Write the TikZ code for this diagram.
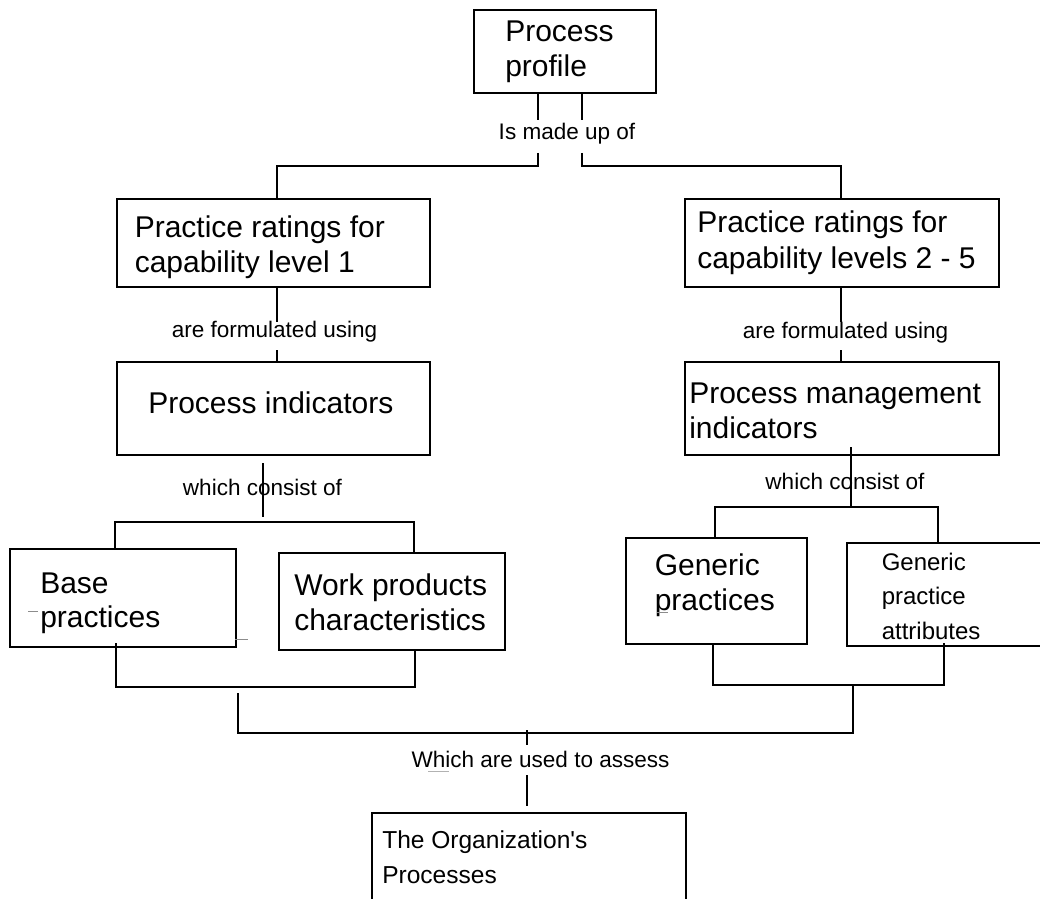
\documentclass[tikz,border=0pt]{standalone}
\usepackage{fontspec}
\setmainfont{Liberation Sans}[Ligatures=TeXOff]
\usetikzlibrary{calc}
\newcommand\mkbox[5]{\node[box,minimum width={(#4-#2)*0.75pt},minimum height={(#5-#3)*0.75pt}] (#1) at (#2,#3) {};}
\begin{document}
\begin{tikzpicture}[x=0.75pt,y=-0.75pt,
  box/.style={draw,line width=1.5pt,inner sep=0pt,outer sep=0pt,anchor=north west},
  txt/.style={anchor=base west,inner sep=0pt,font=\fontsize{22.5}{26}\selectfont},
  smalltxt/.style={anchor=base west,inner sep=0pt,font=\fontsize{18}{22}\selectfont},
  orgtxt/.style={anchor=base west,inner sep=0pt,font=\fontsize{18.4}{22}\selectfont},
  lab/.style={anchor=base,inner sep=0pt,font=\fontsize{16.9}{20}\selectfont},
  conn/.style={line width=1.5pt},
  speck/.style={black!45,line width=0.6pt}]
\useasboundingbox (0,0) rectangle (1040,899);

% boxes
\mkbox{pp}{474}{10}{656}{93}
\mkbox{lone}{117}{199}{430}{287}
\mkbox{rone}{685}{199}{999}{287}
\mkbox{ltwo}{117}{362}{430}{455}
\mkbox{rtwo}{685}{362}{999}{455}
\mkbox{bp}{10}{549}{236}{647}
\mkbox{wp}{279}{553}{505}{650}
\mkbox{gp}{626}{538}{807}{644}
\mkbox{ga}{847}{543}{1050}{646}
\mkbox{org}{372}{813}{686}{915}

% box texts
\node[txt] (pp1) at (505,42) {Process};
\node[txt] (pp2) at (505,77) {profile};
\node[txt] (lone1) at (134.5,237) {Practice ratings for};
\node[txt] (lone2) at (134.5,272) {capability level 1};
\node[txt] (rone1) at (697,233) {Practice ratings for};
\node[txt] (rone2) at (697,268) {capability levels 2 - 5};
\node[txt] (ltwo1) at (148,413) {Process indicators};
\node[txt] (rtwo1) at (689,403) {Process management};
\node[txt] (rtwo2) at (689,438) {indicators};
\node[txt] (bp1) at (40,593) {Base};
\node[txt] (bp2) at (40,627) {practices};
\node[txt] (wp1) at (294,595) {Work products};
\node[txt] (wp2) at (294,630) {characteristics};
\node[txt] (gp1) at (654.5,575) {Generic};
\node[txt] (gp2) at (654.5,610) {practices};
\node[smalltxt] (ga1) at (881.5,570) {Generic};
\node[smalltxt] (ga2) at (881.5,604.5) {practice};
\node[smalltxt] (ga3) at (881.5,639) {attributes};
\node[orgtxt] (org1) at (382,848) {The Organization's};
\node[orgtxt] (org2) at (382,883) {Processes};

% connector labels
\node[lab] (l1) at (567,140) {Is made up of};
\node[lab] (l2) at (274.5,337) {are formulated using};
\node[lab] (l3) at (845.5,338) {are formulated using};
\node[lab] (l4) at (262.5,495) {which consist of};
\node[lab] (l5) at (845,489) {which consist of};
\node[lab] (l6) at (540.5,767) {Which are used to assess};

% coordinates
\coordinate (a1) at (538,120);
\coordinate (a2) at (538,153);
\coordinate (a3) at (277,166);
\coordinate (b1) at (582,120);
\coordinate (b2) at (582,153);
\coordinate (b3) at (841,166);
\coordinate (c1) at (277,322);
\coordinate (c2) at (277,350);
\coordinate (d1) at (841,322);
\coordinate (d2) at (841,350);
\coordinate (e1) at (263,463);
\coordinate (e2) at (263,517);
\coordinate (e3) at (115,522);
\coordinate (e4) at (414,522);
\coordinate (f1) at (851,447);
\coordinate (f2) at (851,507);
\coordinate (f3) at (715,507);
\coordinate (f4) at (938,507);
\coordinate (g1) at (415,687);
\coordinate (g2) at (116,643);
\coordinate (g3) at (238,687);
\coordinate (g4) at (238,693);
\coordinate (g5) at (238,733);
\coordinate (h1) at (713,685);
\coordinate (h2) at (944,643);
\coordinate (h3) at (853,685);
\coordinate (h4) at (853,733);
\coordinate (k1) at (527,730);
\coordinate (k2) at (527,745);
\coordinate (k3) at (527,775);
\coordinate (k4) at (527,806);

% connectors
\draw[conn] (pp.south -| a1) -- (a1);
\draw[conn] (a2) |- (a3) -- (a3 |- lone.north);
\draw[conn] (pp.south -| b1) -- (b1);
\draw[conn] (b2) |- (b3) -- (b3 |- rone.north);
\draw[conn] (lone.south -| c1) -- (c1);
\draw[conn] (c2) -- (c2 |- ltwo.north);
\draw[conn] (rone.south -| d1) -- (d1);
\draw[conn] (d2) -- (d2 |- rtwo.north);
\draw[conn] (e1) -- (e2);
\draw[conn] (e3 |- bp.north) -- (e3) -- (e4) -- (e4 |- wp.north);
\draw[conn] (f1) -- (f2);
\draw[conn] (f3 |- gp.north) -- (f3) -- (f4) -- (f4 |- ga.north);
\draw[conn] (g1 |- wp.south) -- (g1) -- (g3) -- (g2 |- g1) -- (g2);
\draw[conn] (h1 |- gp.south) -- (h1) -- (h2 |- h1) -- (h2);
\draw[conn] (g4) -- (g5) -- (h4) -- (h3);
\draw[conn] (k1) -- (k2);
\draw[conn] (k3) -- (k4);

% small specks
\draw[speck] (28,611) -- (38,611);
\draw[speck] (235,639) -- (248,639);
\draw[speck] (657,612) -- (668,612);
\draw[black!30,line width=0.3pt] (428,771) -- (449,771);
\end{tikzpicture}
\end{document}
